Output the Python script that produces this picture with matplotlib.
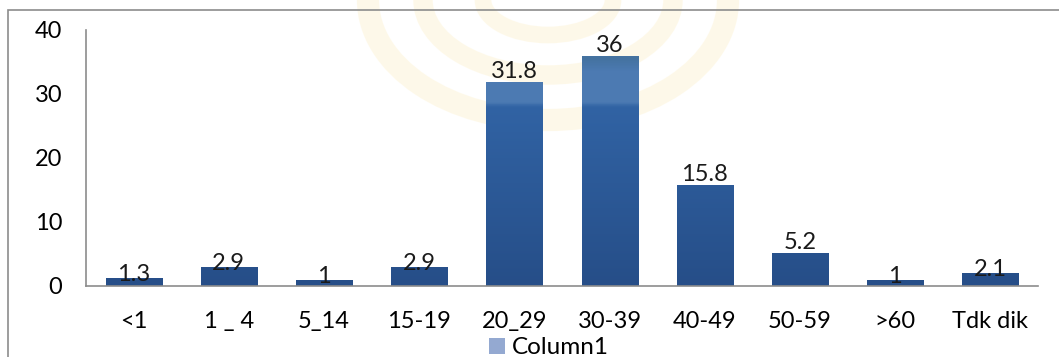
import matplotlib
matplotlib.use("Agg")
import matplotlib.pyplot as plt
import numpy as np
from matplotlib.colors import LinearSegmentedColormap
from matplotlib.patches import Rectangle, Patch, Ellipse

categories = ["<1", "1 _ 4", "5_14", "15-19", "20_29", "30-39", "40-49", "50-59", ">60", "Tdk dik"]
values = [1.3, 2.9, 1, 2.9, 31.8, 36, 15.8, 5.2, 1, 2.1]
value_labels = ["1.3", "2.9", "1", "2.9", "31.8", "36", "15.8", "5.2", "1", "2.1"]
series_name = "Column1"

plt.rcParams["font.family"] = ["Lato", "DejaVu Sans"]
FS = 17

W, H = 1059, 357
fig = plt.figure(figsize=(W / 100, H / 100), dpi=100)
fig.patch.set_facecolor("white")

# very faint watermark rings behind the chart
for (w, h, lw) in [(360, 240, 16), (250, 150, 14), (130, 70, 12)]:
    fig.add_artist(Ellipse((548 / W, 1 - 0 / H), w / W, h / H,
                           transform=fig.transFigure, fill=False,
                           edgecolor="#fdf3d4", alpha=0.5, linewidth=lw, zorder=0))

# outer chart frame (runs off the right/bottom edge in the reference)
fig.add_artist(Rectangle((8 / W, -0.2), 1.2, 1 - 10 / H + 0.2,
                         transform=fig.transFigure, fill=False,
                         edgecolor="#8c8c8c", linewidth=1.2))

ax = fig.add_axes([86 / W, (H - 286) / H, (1038 - 86) / W, (286 - 30) / H])
ax.set_facecolor("none")

x = np.arange(len(categories))
bars = ax.bar(x, values, width=0.59, facecolor="none", edgecolor="none", zorder=2)

# vertical gradient with the lighter "glass" band near the top of the plot
cmap = LinearSegmentedColormap.from_list(
    "bars",
    [(0.0, "#264e88"), (0.70, "#3163a4"), (0.718, "#4d7bb3"),
     (0.84, "#4c7ab2"), (0.89, "#44729f"), (0.94, "#4a78ae"), (1.0, "#5380b6")],
)
grad = np.linspace(0, 1, 400).reshape(-1, 1)
for b in bars:
    im = ax.imshow(grad, extent=[b.get_x(), b.get_x() + b.get_width(), 0, 40],
                   origin="lower", aspect="auto", cmap=cmap, zorder=2)
    im.set_clip_path(b)

# short bars: label sits a little into the bar, as in the original
for xi, v, lab in zip(x, values, value_labels):
    off = -2.2 if v < 4 else 2.9
    ax.annotate(lab, (xi, v), xytext=(0, off), textcoords="offset points",
                ha="center", va="baseline", fontsize=FS, color="#1a1a1a", zorder=3)

ax.set_xlim(-0.5, len(categories) - 0.5)
ax.set_ylim(0, 40)
ax.set_yticks([0, 10, 20, 30, 40])
ax.set_xticks(x)
ax.set_xticklabels(categories)
ax.tick_params(axis="both", length=0, labelsize=FS, colors="black")
ax.tick_params(axis="y", pad=17)
ax.tick_params(axis="x", pad=18)

for side in ["top", "right"]:
    ax.spines[side].set_visible(False)
for side in ["left", "bottom"]:
    ax.spines[side].set_color("#8c8c8c")
    ax.spines[side].set_linewidth(1.2)

handle = Patch(facecolor="#94a9d1", edgecolor="none", label=series_name)
fig.legend(handles=[handle], loc="center", bbox_to_anchor=(549 / W, 1 - 348 / H),
           frameon=False, fontsize=FS + 0.5, handlelength=0.65, handleheight=0.65,
           handletextpad=0.3, borderpad=0)

fig.savefig("out.png", dpi=100)
